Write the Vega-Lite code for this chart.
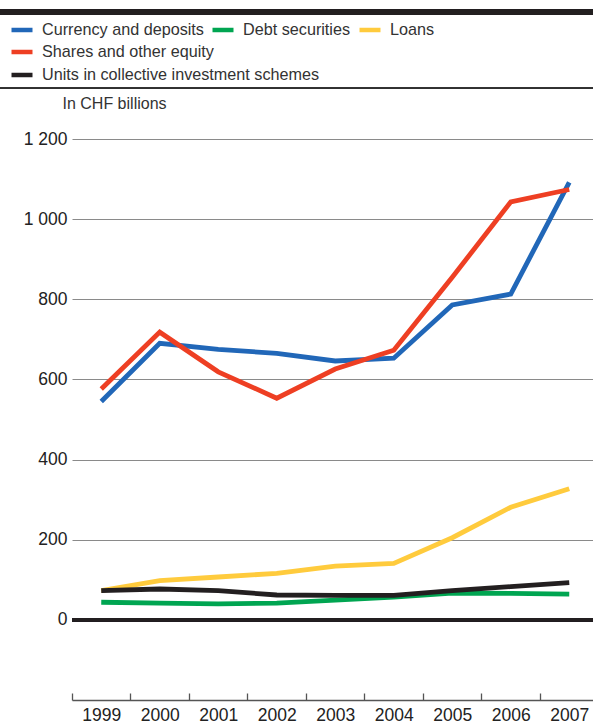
{
  "$schema": "https://vega.github.io/schema/vega-lite/v6.json",
  "autosize": "none",
  "width": 521,
  "height": 561,
  "padding": {"left": 72, "top": 139, "right": 0, "bottom": 23},
  "background": "white",
  "config": {
    "font": "Liberation Sans",
    "view": {"stroke": null},
    "legend": {"padding": 0, "labelLimit": 0}
  },
  "data": {
    "values": [
      {"year": 1999, "series": "Currency and deposits", "value": 545},
      {"year": 2000, "series": "Currency and deposits", "value": 690},
      {"year": 2001, "series": "Currency and deposits", "value": 675},
      {"year": 2002, "series": "Currency and deposits", "value": 665},
      {"year": 2003, "series": "Currency and deposits", "value": 646},
      {"year": 2004, "series": "Currency and deposits", "value": 653},
      {"year": 2005, "series": "Currency and deposits", "value": 786},
      {"year": 2006, "series": "Currency and deposits", "value": 813},
      {"year": 2007, "series": "Currency and deposits", "value": 1092},
      {"year": 1999, "series": "Debt securities", "value": 44},
      {"year": 2000, "series": "Debt securities", "value": 42},
      {"year": 2001, "series": "Debt securities", "value": 40},
      {"year": 2002, "series": "Debt securities", "value": 42},
      {"year": 2003, "series": "Debt securities", "value": 49},
      {"year": 2004, "series": "Debt securities", "value": 57},
      {"year": 2005, "series": "Debt securities", "value": 67},
      {"year": 2006, "series": "Debt securities", "value": 66},
      {"year": 2007, "series": "Debt securities", "value": 64},
      {"year": 1999, "series": "Loans", "value": 73},
      {"year": 2000, "series": "Loans", "value": 98},
      {"year": 2001, "series": "Loans", "value": 107},
      {"year": 2002, "series": "Loans", "value": 116},
      {"year": 2003, "series": "Loans", "value": 134},
      {"year": 2004, "series": "Loans", "value": 141},
      {"year": 2005, "series": "Loans", "value": 205},
      {"year": 2006, "series": "Loans", "value": 281},
      {"year": 2007, "series": "Loans", "value": 327},
      {"year": 1999, "series": "Shares and other equity", "value": 576},
      {"year": 2000, "series": "Shares and other equity", "value": 718},
      {"year": 2001, "series": "Shares and other equity", "value": 619},
      {"year": 2002, "series": "Shares and other equity", "value": 553},
      {"year": 2003, "series": "Shares and other equity", "value": 626},
      {"year": 2004, "series": "Shares and other equity", "value": 673},
      {"year": 2005, "series": "Shares and other equity", "value": 855},
      {"year": 2006, "series": "Shares and other equity", "value": 1043},
      {"year": 2007, "series": "Shares and other equity", "value": 1074},
      {"year": 1999, "series": "Units in collective investment schemes", "value": 73},
      {"year": 2000, "series": "Units in collective investment schemes", "value": 77},
      {"year": 2001, "series": "Units in collective investment schemes", "value": 73},
      {"year": 2002, "series": "Units in collective investment schemes", "value": 62},
      {"year": 2003, "series": "Units in collective investment schemes", "value": 61},
      {"year": 2004, "series": "Units in collective investment schemes", "value": 61},
      {"year": 2005, "series": "Units in collective investment schemes", "value": 73},
      {"year": 2006, "series": "Units in collective investment schemes", "value": 83},
      {"year": 2007, "series": "Units in collective investment schemes", "value": 93}
    ]
  },
  "encoding": {
    "x": {
      "field": "year",
      "type": "quantitative",
      "scale": {"domain": [1998.5, 2007.406], "nice": false, "zero": false},
      "axis": {
        "title": null,
        "values": [1999, 2000, 2001, 2002, 2003, 2004, 2005, 2006, 2007],
        "format": "d",
        "grid": false,
        "domainColor": "#555555",
        "domainWidth": 1.3,
        "tickColor": "#555555",
        "tickWidth": 1.3,
        "tickSize": -7,
        "tickOffset": -29.25,
        "labelOffset": 29.25,
        "labelPadding": 13,
        "labelFontSize": 17.5,
        "labelColor": "#222222",
        "labelFont": "Liberation Sans"
      }
    },
    "y": {
      "field": "value",
      "type": "quantitative",
      "scale": {"domain": [-200, 1200], "nice": false, "zero": false},
      "axis": {
        "values": [0, 200, 400, 600, 800, 1000, 1200],
        "labelExpr": "replace(format(datum.value, ','), ',', ' ')",
        "ticks": false,
        "domain": false,
        "grid": true,
        "gridColor": "#8a8a8a",
        "gridWidth": 1,
        "labelPadding": 5,
        "labelFontSize": 17.5,
        "labelColor": "#222222",
        "labelFont": "Liberation Sans",
        "title": "In CHF billions",
        "titleAngle": 0,
        "titleAlign": "left",
        "titleBaseline": "alphabetic",
        "titleX": -10,
        "titleY": -31,
        "titleFontSize": 16,
        "titleFontWeight": "normal",
        "titleColor": "#333333",
        "titleFont": "Liberation Sans"
      }
    }
  },
  "layer": [
    {
      "mark": {"type": "rule", "color": "#231F20", "strokeWidth": 2.8},
      "encoding": {"y": {"datum": 0}, "x": null}
    },
    {
      "mark": {"type": "rule", "color": "#231F20", "strokeWidth": 5.4, "clip": false},
      "encoding": {"y": {"datum": 1517}, "x": {"datum": 1997.25}, "x2": {"datum": 2007.6}}
    },
    {
      "mark": {"type": "rule", "color": "#333333", "strokeWidth": 1.2, "clip": false},
      "encoding": {"y": {"datum": 1328}, "x": {"datum": 1997.25}, "x2": {"datum": 2007.6}}
    },
    {
      "transform": [{"filter": {"field": "series", "oneOf": ["Currency and deposits", "Debt securities", "Loans"]}}],
      "mark": {"type": "line", "strokeWidth": 4.8, "strokeJoin": "miter"},
      "encoding": {
        "color": {
          "field": "series",
          "type": "nominal",
          "scale": {"domain": ["Currency and deposits", "Debt securities", "Loans"], "range": ["#2167B8", "#00A551", "#FFCB3D"]},
          "legend": {
            "orient": "none",
            "direction": "horizontal",
            "legendX": -63,
            "legendY": -122,
            "title": null,
            "symbolType": "stroke",
            "symbolSize": 441,
            "symbolStrokeWidth": 4.5,
            "labelFontSize": 16.2,
            "labelColor": "#333333",
            "labelFont": "Liberation Sans",
            "labelOffset": 7,
            "labelLimit": 0,
            "columnPadding": -1
          }
        }
      }
    },
    {
      "transform": [{"filter": {"field": "series", "equal": "Shares and other equity"}}],
      "mark": {"type": "line", "strokeWidth": 4.8, "strokeJoin": "miter"},
      "encoding": {
        "color": {
          "field": "series",
          "type": "nominal",
          "scale": {"domain": ["Shares and other equity"], "range": ["#EE3F23"]},
          "legend": {
            "orient": "none",
            "direction": "horizontal",
            "legendX": -63,
            "legendY": -100,
            "title": null,
            "symbolType": "stroke",
            "symbolSize": 441,
            "symbolStrokeWidth": 4.5,
            "labelFontSize": 16.2,
            "labelColor": "#333333",
            "labelFont": "Liberation Sans",
            "labelOffset": 7,
            "labelLimit": 0
          }
        }
      }
    },
    {
      "transform": [{"filter": {"field": "series", "equal": "Units in collective investment schemes"}}],
      "mark": {"type": "line", "strokeWidth": 4.8, "strokeJoin": "miter"},
      "encoding": {
        "color": {
          "field": "series",
          "type": "nominal",
          "scale": {"domain": ["Units in collective investment schemes"], "range": ["#231F20"]},
          "legend": {
            "orient": "none",
            "direction": "horizontal",
            "legendX": -63,
            "legendY": -77,
            "title": null,
            "symbolType": "stroke",
            "symbolSize": 441,
            "symbolStrokeWidth": 4.5,
            "labelFontSize": 16.2,
            "labelColor": "#333333",
            "labelFont": "Liberation Sans",
            "labelOffset": 7,
            "labelLimit": 0
          }
        }
      }
    }
  ],
  "resolve": {"scale": {"color": "independent"}, "legend": {"color": "independent"}}
}
